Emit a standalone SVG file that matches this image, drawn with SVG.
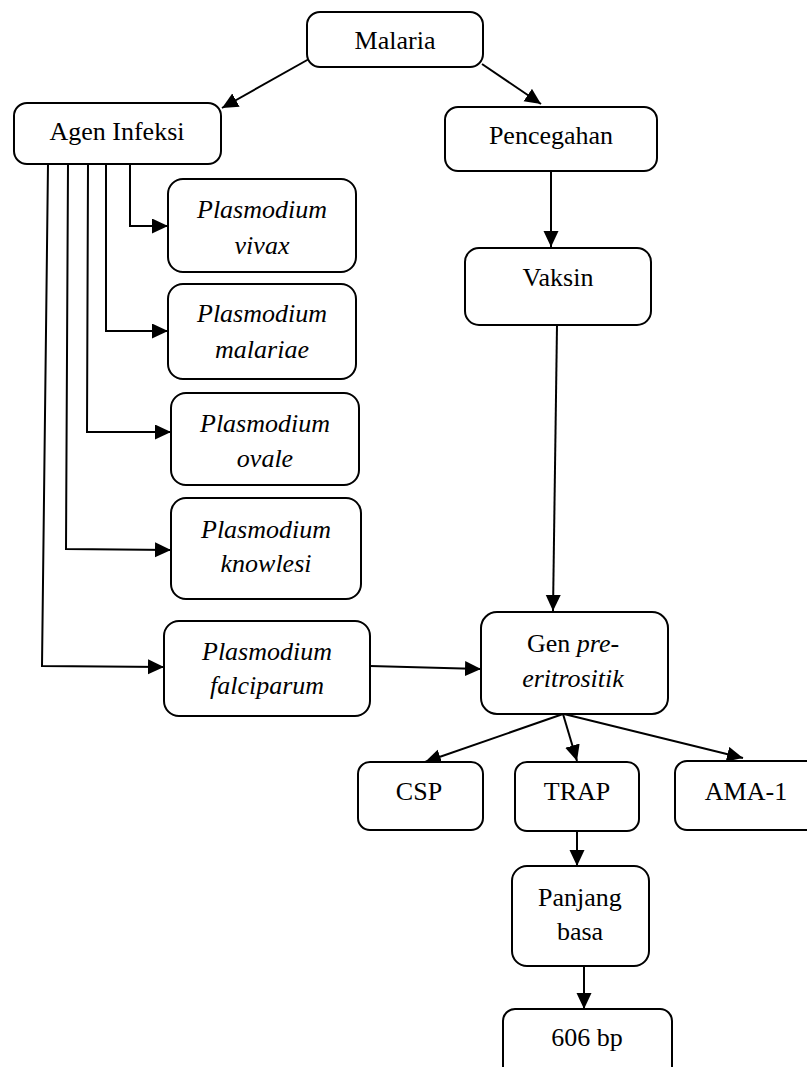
<svg xmlns="http://www.w3.org/2000/svg" width="807" height="1067" viewBox="0 0 807 1067">
<style>
  .box { fill: #fff; stroke: #000; stroke-width: 2; }
  .t { font-family: "Liberation Serif", "Times New Roman", serif; font-size: 26px; fill: #000; text-anchor: middle; }
  .i { font-style: italic; }
  .c { fill: none; stroke: #000; stroke-width: 2; }
</style>
<defs>
  <marker id="ah" markerUnits="userSpaceOnUse" markerWidth="18" markerHeight="16" refX="16" refY="7.5" orient="auto">
    <path d="M0,0 L16,7.5 L0,15 z" fill="#000"/>
  </marker>
</defs>
<rect width="807" height="1067" fill="#fff"/>
<g id="connectors">
  <line class="c" x1="309" y1="59" x2="222" y2="108" marker-end="url(#ah)"/>
  <line class="c" x1="482" y1="64" x2="541" y2="104" marker-end="url(#ah)"/>
  <polyline class="c" points="130,164 130,226 168,226" marker-end="url(#ah)"/>
  <polyline class="c" points="106,164 106,331 168,331" marker-end="url(#ah)"/>
  <polyline class="c" points="88,164 87,432 171,432" marker-end="url(#ah)"/>
  <polyline class="c" points="68,164 66,549 171,550" marker-end="url(#ah)"/>
  <polyline class="c" points="48,164 42,666 164,667" marker-end="url(#ah)"/>
  <line class="c" x1="551" y1="171" x2="551" y2="247" marker-end="url(#ah)"/>
  <line class="c" x1="557" y1="325" x2="553" y2="611" marker-end="url(#ah)"/>
  <line class="c" x1="370" y1="666" x2="481" y2="669" marker-end="url(#ah)"/>
  <line class="c" x1="563" y1="714" x2="425" y2="762" marker-end="url(#ah)"/>
  <line class="c" x1="563" y1="714" x2="577" y2="761" marker-end="url(#ah)"/>
  <line class="c" x1="564" y1="714" x2="743" y2="758" marker-end="url(#ah)"/>
  <line class="c" x1="577" y1="831" x2="577" y2="866" marker-end="url(#ah)"/>
  <line class="c" x1="584" y1="966" x2="584" y2="1009" marker-end="url(#ah)"/>
</g>
<g id="malaria">
  <rect class="box" x="307" y="12" width="176" height="55" rx="13"/>
  <text class="t" x="395" y="49">Malaria</text>
</g>
<g id="agen-infeksi">
  <rect class="box" x="14" y="103" width="207" height="61" rx="13"/>
  <text class="t" x="117" y="140">Agen Infeksi</text>
</g>
<g id="pencegahan">
  <rect class="box" x="445" y="107" width="212" height="64" rx="13"/>
  <text class="t" x="551" y="144">Pencegahan</text>
</g>
<g id="vaksin">
  <rect class="box" x="465" y="248" width="186" height="77" rx="14"/>
  <text class="t" x="558" y="286">Vaksin</text>
</g>
<g id="p-vivax">
  <rect class="box" x="168" y="179" width="188" height="93" rx="15"/>
  <text class="t i" x="262" y="218">Plasmodium</text>
  <text class="t i" x="262" y="254">vivax</text>
</g>
<g id="p-malariae">
  <rect class="box" x="168" y="284" width="188" height="95" rx="15"/>
  <text class="t i" x="262" y="322">Plasmodium</text>
  <text class="t i" x="262" y="358">malariae</text>
</g>
<g id="p-ovale">
  <rect class="box" x="171" y="393" width="188" height="92" rx="15"/>
  <text class="t i" x="265" y="432">Plasmodium</text>
  <text class="t i" x="265" y="467">ovale</text>
</g>
<g id="p-knowlesi">
  <rect class="box" x="171" y="498" width="190" height="101" rx="15"/>
  <text class="t i" x="266" y="538">Plasmodium</text>
  <text class="t i" x="266" y="572">knowlesi</text>
</g>
<g id="p-falciparum">
  <rect class="box" x="164" y="621" width="206" height="95" rx="15"/>
  <text class="t i" x="267" y="660">Plasmodium</text>
  <text class="t i" x="267" y="694">falciparum</text>
</g>
<g id="gen-pre-eritrositik">
  <rect class="box" x="481" y="612" width="187" height="102" rx="16"/>
  <text class="t" x="573" y="652">Gen <tspan class="i">pre-</tspan></text>
  <text class="t i" x="573" y="687">eritrositik</text>
</g>
<g id="csp">
  <rect class="box" x="358" y="762" width="125" height="68" rx="12"/>
  <text class="t" x="419" y="800">CSP</text>
</g>
<g id="trap">
  <rect class="box" x="515" y="762" width="124" height="69" rx="12"/>
  <text class="t" x="577" y="800">TRAP</text>
</g>
<g id="ama-1">
  <rect class="box" x="675" y="761" width="145" height="69" rx="12"/>
  <text class="t" x="746" y="800">AMA-1</text>
</g>
<g id="panjang-basa">
  <rect class="box" x="512" y="866" width="137" height="100" rx="15"/>
  <text class="t" x="580" y="906">Panjang</text>
  <text class="t" x="580" y="940">basa</text>
</g>
<g id="bp-606">
  <rect class="box" x="503" y="1009" width="169" height="80" rx="12"/>
  <text class="t" x="587" y="1046">606 bp</text>
</g>
</svg>
